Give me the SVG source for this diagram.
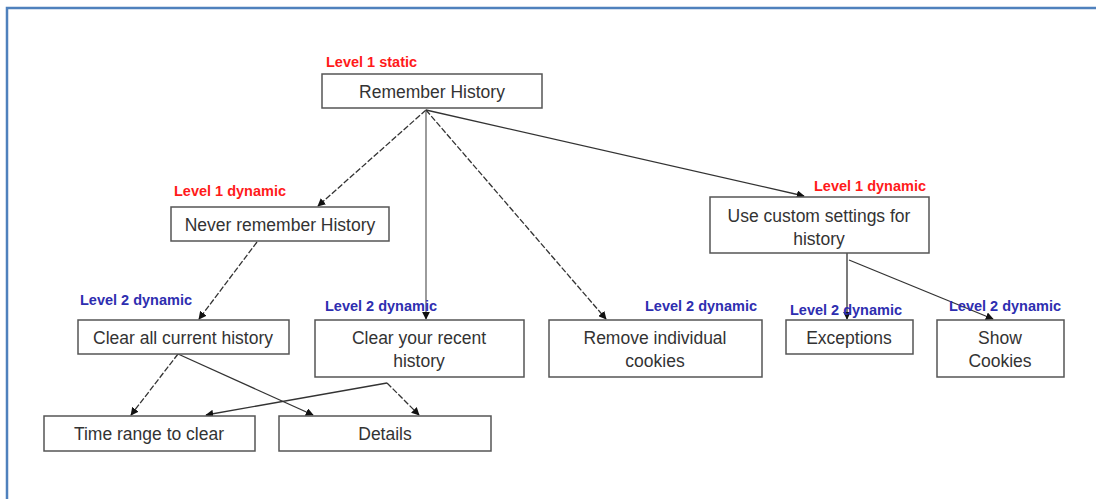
<svg xmlns="http://www.w3.org/2000/svg" width="1096" height="499" viewBox="0 0 1096 499">
<defs>
<style>
.box{fill:#fff;stroke:#555;stroke-width:1.5}
.t{font-family:"Liberation Sans",Arial,sans-serif;font-size:17.5px;fill:#333;text-anchor:middle}
.l1{font-family:"Liberation Sans",Arial,sans-serif;font-size:14.5px;font-weight:bold;fill:#ff1a1a}
.l2{font-family:"Liberation Sans",Arial,sans-serif;font-size:14.5px;font-weight:bold;fill:#2e2eb0}
.c{fill:none;stroke:#333;stroke-width:1.3;marker-end:url(#ah)}
.d{stroke-dasharray:6 2}
</style>
<marker id="ah" viewBox="0 0 10 10" refX="9" refY="5" markerWidth="8" markerHeight="8" orient="auto" markerUnits="userSpaceOnUse">
<path d="M0,0 L10,5 L0,10 z" fill="#111"/>
</marker>
</defs>
<rect x="0" y="0" width="1096" height="499" fill="#fff"/>
<path d="M7,499 V8 H1096" fill="none" stroke="#4f81bd" stroke-width="2.5"/>
<g id="connectors">
<path class="c d" d="M426,110 L318,206"/>
<path class="c" style="stroke:#666" d="M426,110 L426,319"/>
<path class="c d" d="M426,110 L606,319"/>
<path class="c" d="M426,110 L804,196"/>
<path class="c d" d="M257,242 L199,319"/>
<path class="c" d="M847,253 L847,319"/>
<path class="c" d="M849,260 L993,319"/>
<path class="c d" d="M178,354 L131,415"/>
<path class="c" d="M178,354 L313,415"/>
<path class="c" d="M387,383 L206,415"/>
<path class="c d" d="M387,383 L419,415"/>
</g>
<g id="n-remember"><rect class="box" x="322" y="74" width="220" height="34"/><text class="t" x="432" y="98">Remember History</text><text class="l1" x="326" y="67">Level 1 static</text></g>
<g id="n-never"><rect class="box" x="171" y="207" width="218" height="34"/><text class="t" x="280" y="231">Never remember History</text><text class="l1" x="174" y="196">Level 1 dynamic</text></g>
<g id="n-custom"><rect class="box" x="710" y="197" width="219" height="56"/><text class="t" x="819" y="222">Use custom settings for</text><text class="t" x="819" y="245">history</text><text class="l1" x="814" y="191">Level 1 dynamic</text></g>
<g id="n-clearall"><rect class="box" x="78" y="320" width="211" height="34"/><text class="t" x="183" y="344">Clear all current history</text><text class="l2" x="80" y="305">Level 2 dynamic</text></g>
<g id="n-recent"><rect class="box" x="315" y="320" width="209" height="57"/><text class="t" x="419" y="344">Clear your recent</text><text class="t" x="419" y="367">history</text><text class="l2" x="325" y="311">Level 2 dynamic</text></g>
<g id="n-remove"><rect class="box" x="549" y="320" width="213" height="57"/><text class="t" x="655" y="344">Remove individual</text><text class="t" x="655" y="367">cookies</text><text class="l2" x="645" y="311">Level 2 dynamic</text></g>
<g id="n-exceptions"><rect class="box" x="786" y="320" width="127" height="34"/><text class="t" x="849" y="344">Exceptions</text><text class="l2" x="790" y="315">Level 2 dynamic</text></g>
<g id="n-show"><rect class="box" x="937" y="320" width="127" height="57"/><text class="t" x="1000" y="344">Show</text><text class="t" x="1000" y="367">Cookies</text><text class="l2" x="949" y="311">Level 2 dynamic</text></g>
<g id="n-time"><rect class="box" x="44" y="416" width="211" height="35"/><text class="t" x="149" y="440">Time range to clear</text></g>
<g id="n-details"><rect class="box" x="279" y="416" width="212" height="35"/><text class="t" x="385" y="440">Details</text></g>
</svg>
